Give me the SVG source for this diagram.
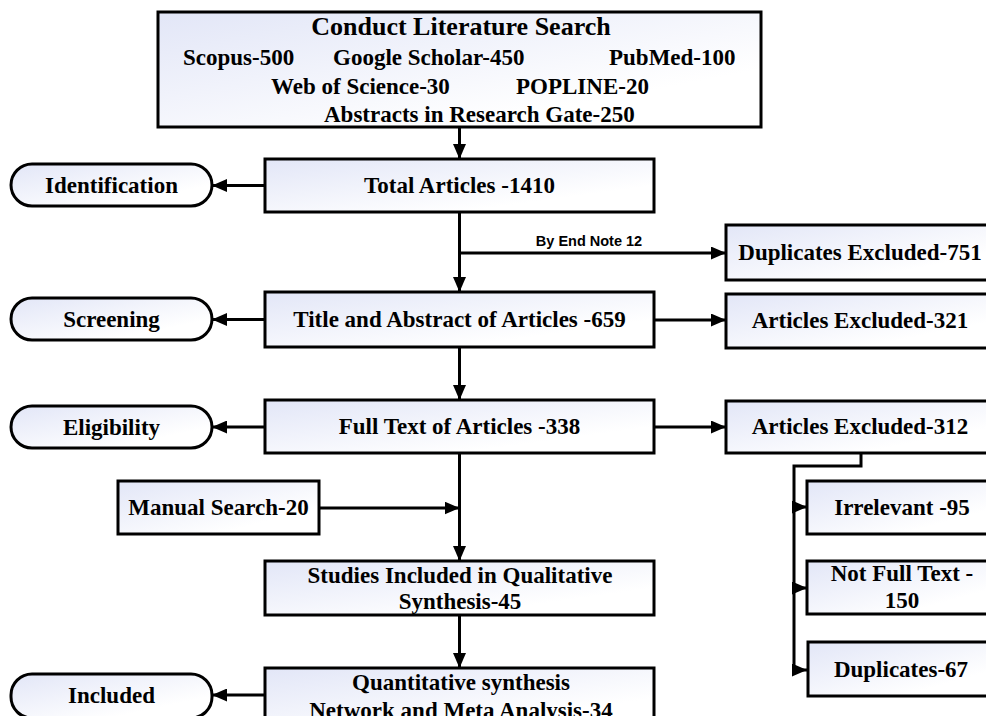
<svg xmlns="http://www.w3.org/2000/svg" width="986" height="716" viewBox="0 0 986 716">
<defs>
<linearGradient id="g" x1="0" y1="0" x2="1" y2="1">
<stop offset="0" stop-color="#e2e6f7"/>
<stop offset="0.75" stop-color="#ffffff"/>
</linearGradient>
<marker id="ah" markerUnits="userSpaceOnUse" markerWidth="15" markerHeight="13" refX="15" refY="6.5" orient="auto">
<path d="M0,0 L15,6.5 L0,13 z" fill="#000"/>
</marker>
</defs>
<style>
.box{fill:url(#g);stroke:#000;stroke-width:3}
.t{font-family:"Liberation Serif","Times New Roman",serif;font-weight:bold;font-size:23px;fill:#000}
.c{text-anchor:middle}
.ln{fill:none;stroke:#000;stroke-width:3}
.lbl{font-family:"Liberation Sans",Arial,sans-serif;font-weight:bold;font-size:14.5px;fill:#000;text-anchor:middle}
</style>
<rect width="986" height="716" fill="#fff"/>

<g id="search">
<rect class="box" x="158" y="12" width="603" height="115"/>
<text class="t c" x="461" y="35" style="font-size:26px">Conduct Literature Search</text>
<text class="t" x="183" y="65">Scopus-500</text>
<text class="t" x="333" y="65">Google Scholar-450</text>
<text class="t" x="609" y="65">PubMed-100</text>
<text class="t" x="271" y="94">Web of Science-30</text>
<text class="t" x="516" y="94">POPLINE-20</text>
<text class="t" x="324" y="122">Abstracts in Research Gate-250</text>
</g>

<g id="total">
<rect class="box" x="265" y="159" width="389" height="53"/>
<text class="t c" x="459.5" y="193">Total Articles -1410</text>
</g>

<g id="title">
<rect class="box" x="265" y="292" width="389" height="55"/>
<text class="t c" x="459.5" y="327">Title and Abstract of Articles -659</text>
</g>

<g id="fulltext">
<rect class="box" x="265" y="400" width="389" height="53"/>
<text class="t c" x="459.5" y="434">Full Text of Articles -338</text>
</g>

<g id="studies">
<rect class="box" x="265" y="561" width="389" height="54"/>
<text class="t c" x="460" y="583">Studies Included in Qualitative</text>
<text class="t c" x="460" y="609">Synthesis-45</text>
</g>

<g id="quant">
<rect class="box" x="265" y="668" width="389" height="60"/>
<text class="t c" x="461" y="690">Quantitative synthesis</text>
<text class="t c" x="461" y="718">Network and Meta Analysis-34</text>
</g>

<g id="manual">
<rect class="box" x="118" y="481" width="201" height="53"/>
<text class="t c" x="218.5" y="515">Manual Search-20</text>
</g>

<g id="dupexcl">
<rect class="box" x="726" y="225" width="268" height="55"/>
<text class="t c" x="860" y="260">Duplicates Excluded-751</text>
</g>

<g id="excl321">
<rect class="box" x="726" y="294" width="268" height="54"/>
<text class="t c" x="860" y="328">Articles Excluded-321</text>
</g>

<g id="excl312">
<rect class="box" x="726" y="401" width="268" height="52"/>
<text class="t c" x="860" y="434">Articles Excluded-312</text>
</g>

<g id="irrelevant">
<rect class="box" x="807" y="481" width="190" height="53"/>
<text class="t c" x="902" y="515">Irrelevant -95</text>
</g>

<g id="notfull">
<rect class="box" x="807" y="561" width="190" height="53"/>
<text class="t c" x="902" y="581">Not Full Text -</text>
<text class="t c" x="902" y="608">150</text>
</g>

<g id="dup67">
<rect class="box" x="808" y="642" width="190" height="54"/>
<text class="t c" x="901" y="677">Duplicates-67</text>
</g>

<g id="identification">
<rect class="box" x="11" y="164" width="201" height="42" rx="21"/>
<text class="t c" x="111.5" y="193">Identification</text>
</g>

<g id="screening">
<rect class="box" x="11" y="298" width="201" height="42" rx="21"/>
<text class="t c" x="111.5" y="327">Screening</text>
</g>

<g id="eligibility">
<rect class="box" x="11" y="406" width="201" height="42" rx="21"/>
<text class="t c" x="111.5" y="435">Eligibility</text>
</g>

<g id="included">
<rect class="box" x="11" y="674" width="201" height="44" rx="21"/>
<text class="t c" x="111.5" y="703">Included</text>
</g>

<g id="connectors">
<line class="ln" x1="459.5" y1="127" x2="459.5" y2="159" marker-end="url(#ah)"/>
<line class="ln" x1="459.5" y1="212" x2="459.5" y2="292" marker-end="url(#ah)"/>
<line class="ln" x1="459.5" y1="253" x2="726" y2="253" marker-end="url(#ah)"/>
<text class="lbl" x="589" y="246">By End Note 12</text>
<line class="ln" x1="459.5" y1="347" x2="459.5" y2="400" marker-end="url(#ah)"/>
<line class="ln" x1="459.5" y1="453" x2="459.5" y2="561" marker-end="url(#ah)"/>
<line class="ln" x1="459.5" y1="615" x2="459.5" y2="668" marker-end="url(#ah)"/>
<line class="ln" x1="319" y1="508" x2="459.5" y2="508" marker-end="url(#ah)"/>
<line class="ln" x1="265" y1="185.5" x2="212" y2="185.5" marker-end="url(#ah)"/>
<line class="ln" x1="265" y1="319.5" x2="212" y2="319.5" marker-end="url(#ah)"/>
<line class="ln" x1="265" y1="427" x2="212" y2="427" marker-end="url(#ah)"/>
<line class="ln" x1="265" y1="695" x2="212" y2="695" marker-end="url(#ah)"/>
<line class="ln" x1="654" y1="320" x2="726" y2="320" marker-end="url(#ah)"/>
<line class="ln" x1="654" y1="427" x2="726" y2="427" marker-end="url(#ah)"/>
<path class="ln" d="M861,453 V466 H794 V670 H807" marker-end="url(#ah)"/>
<line class="ln" x1="794" y1="507" x2="807" y2="507" marker-end="url(#ah)"/>
<line class="ln" x1="794" y1="588" x2="807" y2="588" marker-end="url(#ah)"/>
</g>
</svg>
